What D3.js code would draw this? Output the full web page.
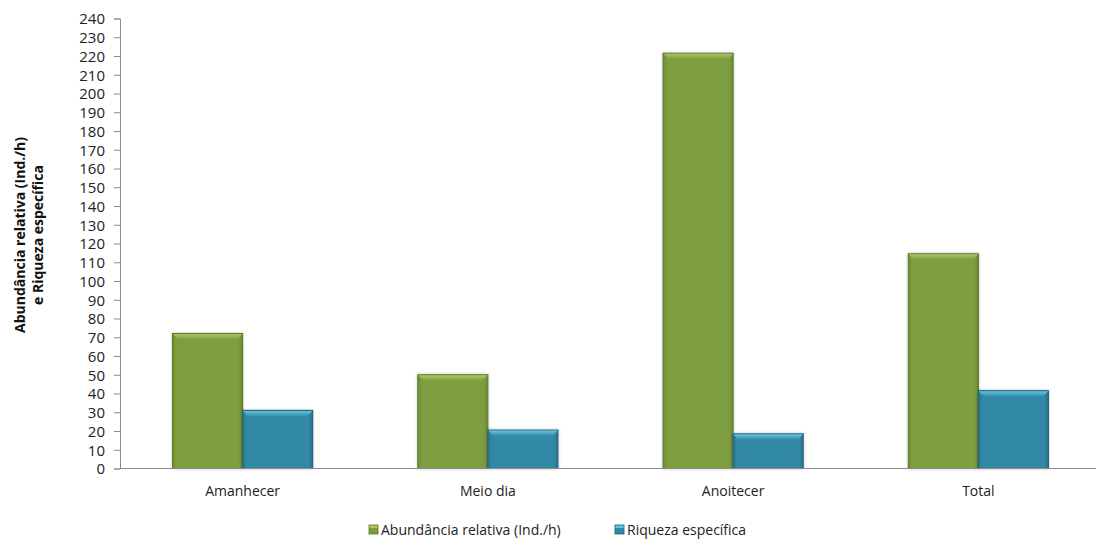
<!DOCTYPE html>
<html>
<head>
<meta charset="utf-8">
<script src="https://cdn.jsdelivr.net/npm/d3@7"></script>
<style>
  html, body { margin: 0; padding: 0; background: #ffffff; }
  svg { display: block; font-family: "Open Sans", "DejaVu Sans", sans-serif; }
</style>
</head>
<body>
<svg id="chart" width="1096" height="541"></svg>
<script>
// Chart data
const categories = ["Amanhecer", "Meio dia", "Anoitecer", "Total"];
const seriesNames = ["Abundância relativa (Ind./h)", "Riqueza específica"];
const abundancia = [72, 50, 221.5, 114.5];
const riqueza = [31, 20.5, 18.5, 41.5];
const yTicks = d3.range(0, 241, 10);

const colors = [
  { main: "#7f9e3f", light: "#a9c763", dark: "#5b7628" },
  { main: "#3289a6", light: "#66c4e0", dark: "#1f5f76" }
];

const svg = d3.select("#chart");
const W = 1096, H = 541;
const margin = { left: 120, right: -5, top: 18.5, bottom: 72.5 };

const x = d3.scaleBand().domain(categories)
  .range([margin.left, W - margin.right]).paddingInner(0).paddingOuter(0);
const y = d3.scaleLinear().domain([0, 240]).range([H - margin.bottom, margin.top]);
const xSub = d3.scaleBand().domain([0, 1]).range([0, x.bandwidth()]).paddingInner(0).paddingOuter(0.75);

// gradients for the bevelled bar faces
const defs = svg.append("defs");
colors.forEach((c, i) => {
  const top = defs.append("linearGradient").attr("id", "top" + i)
    .attr("x1", 0).attr("y1", 0).attr("x2", 0).attr("y2", 1);
  top.append("stop").attr("offset", "0%").attr("stop-color", c.light);
  top.append("stop").attr("offset", "100%").attr("stop-color", c.main);
  const side = defs.append("linearGradient").attr("id", "side" + i)
    .attr("x1", 0).attr("y1", 0).attr("x2", 1).attr("y2", 0);
  side.append("stop").attr("offset", "0%").attr("stop-color", c.dark).attr("stop-opacity", 0.45);
  side.append("stop").attr("offset", "8%").attr("stop-color", c.main).attr("stop-opacity", 0);
  side.append("stop").attr("offset", "92%").attr("stop-color", c.main).attr("stop-opacity", 0);
  side.append("stop").attr("offset", "100%").attr("stop-color", c.dark).attr("stop-opacity", 0.55);
});
const shadow = defs.append("filter").attr("id", "shadow")
  .attr("x", "-20%").attr("y", "-20%").attr("width", "140%").attr("height", "140%");
shadow.append("feGaussianBlur").attr("in", "SourceAlpha").attr("stdDeviation", 1.5);
shadow.append("feOffset").attr("dx", 0).attr("dy", 0).attr("result", "b");
shadow.append("feComponentTransfer").append("feFuncA").attr("type", "linear").attr("slope", 0.25);
const mrg = shadow.append("feMerge");
mrg.append("feMergeNode");
mrg.append("feMergeNode").attr("in", "SourceGraphic");

// y axis
const yAxis = svg.append("g")
  .attr("transform", `translate(${margin.left},0)`)
  .call(d3.axisLeft(y).tickValues(yTicks).tickSize(6).tickPadding(9).tickFormat(d3.format("d")));
yAxis.select(".domain").attr("stroke", "#8c8c8c");
yAxis.selectAll(".tick line").attr("stroke", "#8c8c8c");
yAxis.selectAll(".tick text").attr("fill", "#222").style("font-size", "15px")
  .style("font-family", "'Open Sans', sans-serif").attr("dy", "0.35em");

// bars
const data = categories.map((c, i) => ({ cat: c, vals: [abundancia[i], riqueza[i]] }));
const groups = svg.append("g").selectAll("g").data(data).join("g")
  .attr("transform", d => `translate(${x(d.cat)},0)`);

groups.each(function (d) {
  const g = d3.select(this);
  d.vals.forEach((v, i) => {
    const bx = xSub(i), bw = xSub.bandwidth();
    const by = y(v), bh = y(0) - y(v);
    const c = colors[i];
    const bar = g.append("g").attr("filter", "url(#shadow)");
    bar.append("rect").attr("x", bx).attr("y", by).attr("width", bw).attr("height", bh)
      .attr("fill", c.main).attr("stroke", c.dark).attr("stroke-width", 1);
    bar.append("rect").attr("x", bx + 0.5).attr("y", by + 0.5).attr("width", bw - 1).attr("height", bh - 1)
      .attr("fill", `url(#side${i})`);
    bar.append("path")
      .attr("d", `M${bx + 0.5},${by + 0.5} L${bx + bw - 0.5},${by + 0.5} L${bx + bw - 5},${by + 6} L${bx + 5},${by + 6} Z`)
      .attr("fill", `url(#top${i})`);
  });
});

// x axis baseline and labels
svg.append("line").attr("x1", margin.left).attr("x2", W)
  .attr("y1", y(0)).attr("y2", y(0)).attr("stroke", "#8c8c8c");
const xAxis = svg.append("g")
  .attr("transform", `translate(0,${y(0)})`)
  .call(d3.axisBottom(x).tickSize(0).tickPadding(18));
xAxis.select(".domain").remove();
xAxis.selectAll(".tick text").attr("fill", "#222").style("font-size", "14px")
  .style("font-family", "'Open Sans', sans-serif");

// y axis title
const title = svg.append("text")
  .attr("transform", "translate(25,235) rotate(-90)")
  .attr("text-anchor", "middle")
  .style("font-size", "14px").style("font-weight", "bold")
  .style("font-family", "'Open Sans', sans-serif").attr("fill", "#111");
title.append("tspan").attr("x", 0).attr("dy", 0).text("Abundância relativa (Ind./h)");
title.append("tspan").attr("x", 0).attr("dy", "1.25em").text("e Riqueza específica");

// legend
const legend = svg.append("g").attr("transform", "translate(369,530)");
const items = [
  { name: seriesNames[0], c: colors[0], dx: 0 },
  { name: seriesNames[1], c: colors[1], dx: 246 }
];
items.forEach((it, i) => {
  const lg = legend.append("g").attr("transform", `translate(${it.dx},0)`);
  lg.append("rect").attr("x", 0).attr("y", -5).attr("width", 9).attr("height", 9)
    .attr("fill", it.c.main).attr("stroke", it.c.dark).attr("stroke-width", 0.8);
  lg.append("rect").attr("x", 0.5).attr("y", -4.5).attr("width", 8).attr("height", 2.5)
    .attr("fill", it.c.light);
  lg.append("text").attr("x", 12).attr("y", 0).attr("dy", "0.35em")
    .style("font-size", "14px").style("font-family", "'Open Sans', sans-serif")
    .attr("fill", "#222").text(it.name);
});
</script>
</body>
</html>
